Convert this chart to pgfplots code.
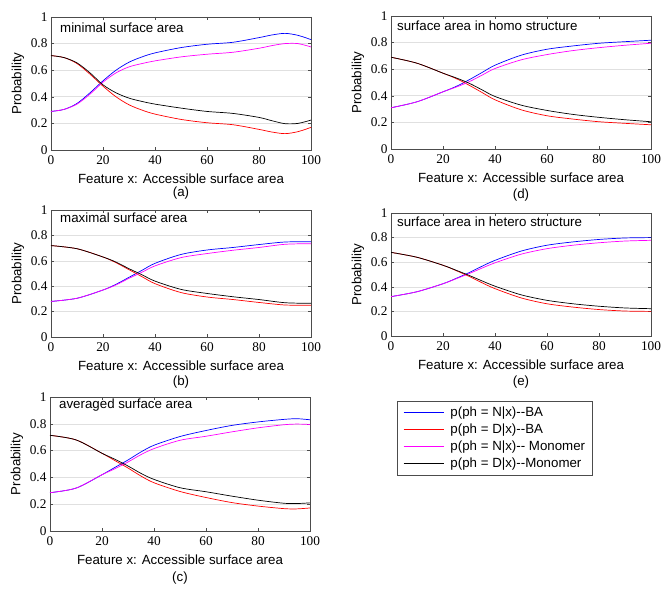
\documentclass[border=0pt]{standalone}
\usepackage{fontspec}
\setmainfont{Liberation Sans}
\newfontfamily\tickserif{Liberation Serif}
\usepackage{pgfplots}
\pgfplotsset{compat=1.18}
\newcommand\lab{\fontsize{13.3}{16}\selectfont}
\newcommand\tickfont{\tickserif\fontsize{13.3}{15}\selectfont}
\definecolor{mblue}{RGB}{0,0,255}
\definecolor{mred}{RGB}{255,0,0}
\definecolor{mmag}{RGB}{255,0,255}
\pgfplotsset{sub/.style={
  scale only axis, width=260pt,
  xmin=0, xmax=100, ymin=0, ymax=1,
  xtick={0,20,40,60,80,100},
  ytick={0,0.2,0.4,0.6,0.8,1},
  ymajorgrids, major grid style={black!12, line width=0.6pt},
  tick align=inside, major tick length=3pt,
  axis line style={black!70, line width=0.6pt},
  every tick/.style={black!70, line width=0.5pt},
  tick label style={font=\tickfont},
  /pgf/number format/assume math mode=true,
  xticklabel style={yshift=-2pt},
  ylabel={Probability},
  ylabel style={at={(axis description cs:-0.127,0.5)}, anchor=center, font=\lab},
  every axis plot/.append style={line width=0.7pt, smooth, mark=none},
}}
\begin{document}
\begin{tikzpicture}
\path[use as bounding box] (0pt,0pt) rectangle (672pt,-596pt);

% (a)
\begin{axis}[sub, name=a, at={(51pt,-150pt)}, anchor=south west, height=133pt]
\addplot[color=mblue] coordinates {(0,0.29)(5,0.305)(10,0.35)(15,0.43)(20,0.52)(25,0.60)(30,0.66)(35,0.70)(40,0.73)(50,0.77)(60,0.795)(70,0.81)(80,0.845)(85,0.865)(90,0.877)(95,0.862)(100,0.83)};
\addplot[color=mred] coordinates {(0,0.71)(5,0.695)(10,0.65)(15,0.57)(20,0.48)(25,0.40)(30,0.34)(35,0.30)(40,0.27)(50,0.23)(60,0.205)(70,0.19)(80,0.155)(85,0.135)(90,0.123)(95,0.138)(100,0.17)};
\addplot[color=mmag] coordinates {(0,0.29)(5,0.305)(10,0.345)(15,0.42)(20,0.51)(25,0.58)(30,0.625)(35,0.65)(40,0.67)(50,0.70)(60,0.72)(70,0.735)(80,0.765)(85,0.785)(90,0.80)(95,0.80)(100,0.775)};
\addplot[color=black] coordinates {(0,0.71)(5,0.695)(10,0.655)(15,0.58)(20,0.49)(25,0.43)(30,0.39)(35,0.365)(40,0.345)(50,0.315)(60,0.29)(70,0.275)(80,0.245)(85,0.22)(90,0.198)(95,0.2)(100,0.225)};
\end{axis}

% (d)
\begin{axis}[sub, name=d, at={(391pt,-149pt)}, anchor=south west, height=133pt]
\addplot[color=mblue] coordinates {(0,0.31)(10,0.355)(20,0.43)(25,0.47)(30,0.52)(35,0.575)(40,0.63)(50,0.705)(60,0.75)(70,0.775)(80,0.795)(90,0.807)(100,0.818)};
\addplot[color=mred] coordinates {(0,0.69)(10,0.645)(20,0.57)(25,0.53)(30,0.48)(35,0.425)(40,0.37)(50,0.295)(60,0.25)(70,0.225)(80,0.205)(90,0.193)(100,0.182)};
\addplot[color=mmag] coordinates {(0,0.31)(10,0.355)(20,0.43)(25,0.465)(30,0.505)(35,0.555)(40,0.605)(50,0.67)(60,0.71)(70,0.74)(80,0.762)(90,0.78)(100,0.795)};
\addplot[color=black] coordinates {(0,0.69)(10,0.645)(20,0.57)(25,0.535)(30,0.495)(35,0.445)(40,0.395)(50,0.33)(60,0.29)(70,0.26)(80,0.238)(90,0.22)(100,0.205)};
\end{axis}

% (b)
\begin{axis}[sub, name=b, at={(51pt,-337pt)}, anchor=south west, height=127pt]
\addplot[color=mblue] coordinates {(0,0.28)(10,0.305)(20,0.37)(25,0.415)(30,0.47)(35,0.525)(40,0.58)(50,0.65)(60,0.685)(70,0.705)(80,0.728)(90,0.748)(100,0.75)};
\addplot[color=mred] coordinates {(0,0.72)(10,0.695)(20,0.63)(25,0.585)(30,0.53)(35,0.475)(40,0.42)(50,0.35)(60,0.315)(70,0.295)(80,0.272)(90,0.252)(100,0.25)};
\addplot[color=mmag] coordinates {(0,0.28)(10,0.305)(20,0.37)(25,0.41)(30,0.462)(35,0.51)(40,0.56)(50,0.625)(60,0.657)(70,0.683)(80,0.705)(90,0.73)(100,0.735)};
\addplot[color=black] coordinates {(0,0.72)(10,0.695)(20,0.63)(25,0.59)(30,0.538)(35,0.49)(40,0.44)(50,0.375)(60,0.343)(70,0.317)(80,0.295)(90,0.27)(100,0.265)};
\end{axis}

% (e)
\begin{axis}[sub, name=e, at={(391pt,-336pt)}, anchor=south west, height=123pt]
\addplot[color=mblue] coordinates {(0,0.32)(10,0.36)(20,0.425)(25,0.468)(30,0.515)(35,0.567)(40,0.615)(50,0.69)(60,0.738)(70,0.765)(80,0.785)(90,0.797)(100,0.8)};
\addplot[color=mred] coordinates {(0,0.68)(10,0.64)(20,0.575)(25,0.532)(30,0.485)(35,0.433)(40,0.385)(50,0.31)(60,0.262)(70,0.235)(80,0.215)(90,0.203)(100,0.2)};
\addplot[color=mmag] coordinates {(0,0.32)(10,0.36)(20,0.425)(25,0.465)(30,0.507)(35,0.552)(40,0.595)(50,0.665)(60,0.71)(70,0.738)(80,0.758)(90,0.772)(100,0.778)};
\addplot[color=black] coordinates {(0,0.68)(10,0.64)(20,0.575)(25,0.535)(30,0.493)(35,0.448)(40,0.405)(50,0.335)(60,0.29)(70,0.262)(80,0.242)(90,0.228)(100,0.222)};
\end{axis}

% (c)
\begin{axis}[sub, name=c, at={(50pt,-531pt)}, anchor=south west, height=134pt,
  legend style={at={(axis description cs:1.3346,0.970)}, anchor=north west,
    draw=black!70, line width=0.6pt, inner xsep=6pt, inner ysep=4pt,
    nodes={inner sep=1.5pt}, row sep=3pt, column sep=5pt},
  legend cell align=left,
  legend image code/.code={\draw[#1, line width=0.7pt] (0pt,0pt) -- (40pt,0pt);}]
\addplot[color=mblue] coordinates {(0,0.286)(10,0.32)(20,0.42)(25,0.475)(30,0.53)(35,0.59)(40,0.64)(50,0.705)(60,0.75)(70,0.788)(80,0.814)(90,0.833)(95,0.838)(100,0.83)};
\addlegendentry{\lab p(ph = N|x)-{}-BA}
\addplot[color=mred] coordinates {(0,0.714)(10,0.68)(20,0.58)(25,0.525)(30,0.47)(35,0.41)(40,0.36)(50,0.295)(60,0.25)(70,0.212)(80,0.186)(90,0.167)(95,0.165)(100,0.172)};
\addlegendentry{\lab p(ph = D|x)-{}-BA}
\addplot[color=mmag] coordinates {(0,0.286)(10,0.32)(20,0.42)(25,0.465)(30,0.515)(35,0.57)(40,0.615)(50,0.677)(60,0.707)(70,0.74)(80,0.77)(90,0.793)(95,0.798)(100,0.795)};
\addlegendentry{\lab p(ph = N|x)-{}- Monomer}
\addplot[color=black] coordinates {(0,0.714)(10,0.68)(20,0.58)(25,0.535)(30,0.485)(35,0.43)(40,0.385)(50,0.323)(60,0.293)(70,0.26)(80,0.23)(90,0.207)(95,0.205)(100,0.21)};
\addlegendentry{\lab p(ph = D|x)-{}-Monomer}
\end{axis}

% labels
\foreach \ax/\lbl/\sub/\ttl/\dx/\dy in {a/(a)/43/minimal surface area/9/11, d/(d)/46/surface area in homo structure/6/10, b/(b)/45/maximal surface area/9/8, e/(e)/46/surface area in hetero structure/6/9, c/(c)/47/averaged surface area/9/8}{
  \node[font=\lab] at ([yshift=-28.5pt]\ax.south) {Feature x: Accessible surface area};
  \node[font=\lab] at ([yshift=-\sub pt]\ax.south) {\lbl};
  \node[font=\lab, anchor=west, inner sep=0pt] at ([xshift=\dx pt, yshift=-\dy pt]\ax.north west) {\ttl};
}
\end{tikzpicture}
\end{document}
